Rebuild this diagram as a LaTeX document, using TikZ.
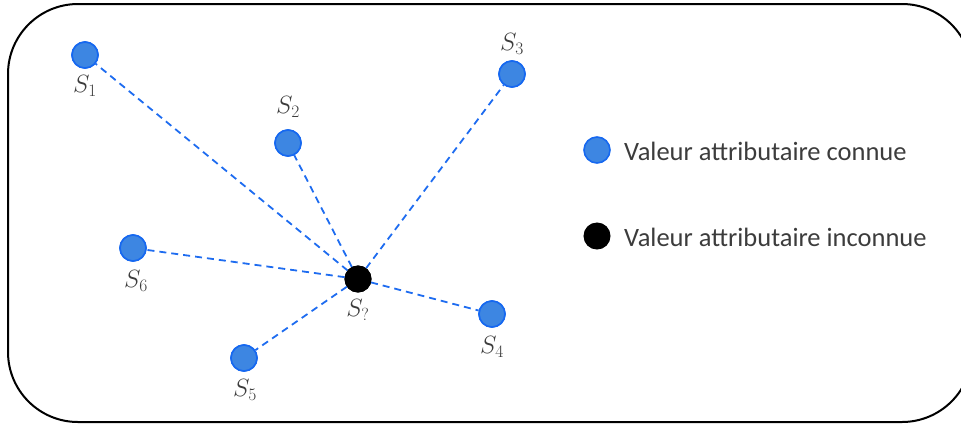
\documentclass[tikz,border=0pt]{standalone}
\usepackage{fix-cm}
\usepackage{fontspec}
\newfontfamily\legendfont{Carlito}
\definecolor{ptfill}{RGB}{61,134,226}
\definecolor{ptdraw}{RGB}{22,104,240}
\definecolor{linkcol}{RGB}{30,108,240}
\definecolor{txtcol}{RGB}{60,60,60}
\tikzset{
  known/.style={circle,fill=ptfill,draw=ptdraw,line width=1.6pt,minimum size=26pt,inner sep=0pt},
  unknown/.style={circle,fill=black,draw=black,line width=1pt,minimum size=26pt,inner sep=0pt},
  lbl/.style={text=txtcol,font=\fontsize{25}{30}\selectfont,inner sep=0pt},
  legtxt/.style={text=txtcol,font=\legendfont\fontsize{26.5}{31}\selectfont,anchor=west,inner sep=0pt},
  link/.style={draw=linkcol,line width=1.8pt,dash pattern=on 7pt off 5pt},
  frame/.style={draw=black,line width=2pt,rounded corners=70pt}
}
\begin{document}
\begin{tikzpicture}[x=1pt,y=-1pt]
\useasboundingbox (0,0) rectangle (961,424);
\clip (0,0) rectangle (961,424);
\draw[frame] (8,4) rectangle (972,422);
% points
\node[known] (s1) at (85,55) {};
\node[known] (s2) at (288,143) {};
\node[known] (s3) at (512,74) {};
\node[known] (s4) at (492,314) {};
\node[known] (s5) at (244,358) {};
\node[known] (s6) at (133,248) {};
\node[unknown] (s0) at (358,279) {};
% links
\foreach \t in {s1,s2,s3,s4,s5,s6}{
  \draw[link] (s0) -- (\t);
}
% nodes on top of links
\node[known] at (s1) {};
\node[known] at (s2) {};
\node[known] at (s3) {};
\node[known] at (s4) {};
\node[known] at (s5) {};
\node[known] at (s6) {};
\node[unknown] at (s0) {};
% labels
\node[lbl] (l1) at (85,86) {$S_1$};
\node[lbl] (l2) at (288,107) {$S_2$};
\node[lbl] (l3) at (512,44) {$S_3$};
\node[lbl] (l4) at (492,347) {$S_4$};
\node[lbl] (l5) at (245,390) {$S_5$};
\node[lbl] (l6) at (136,281) {$S_6$};
\node[lbl] (l0) at (358,310) {$S_?$};
% legend
\node[known] (lk) at (597,150) {};
\node[legtxt] (tk) at (624,151) {Valeur attributaire connue};
\node[unknown] (lu) at (597,236) {};
\node[legtxt] (tu) at (624,237) {Valeur attributaire inconnue};
\end{tikzpicture}
\end{document}
